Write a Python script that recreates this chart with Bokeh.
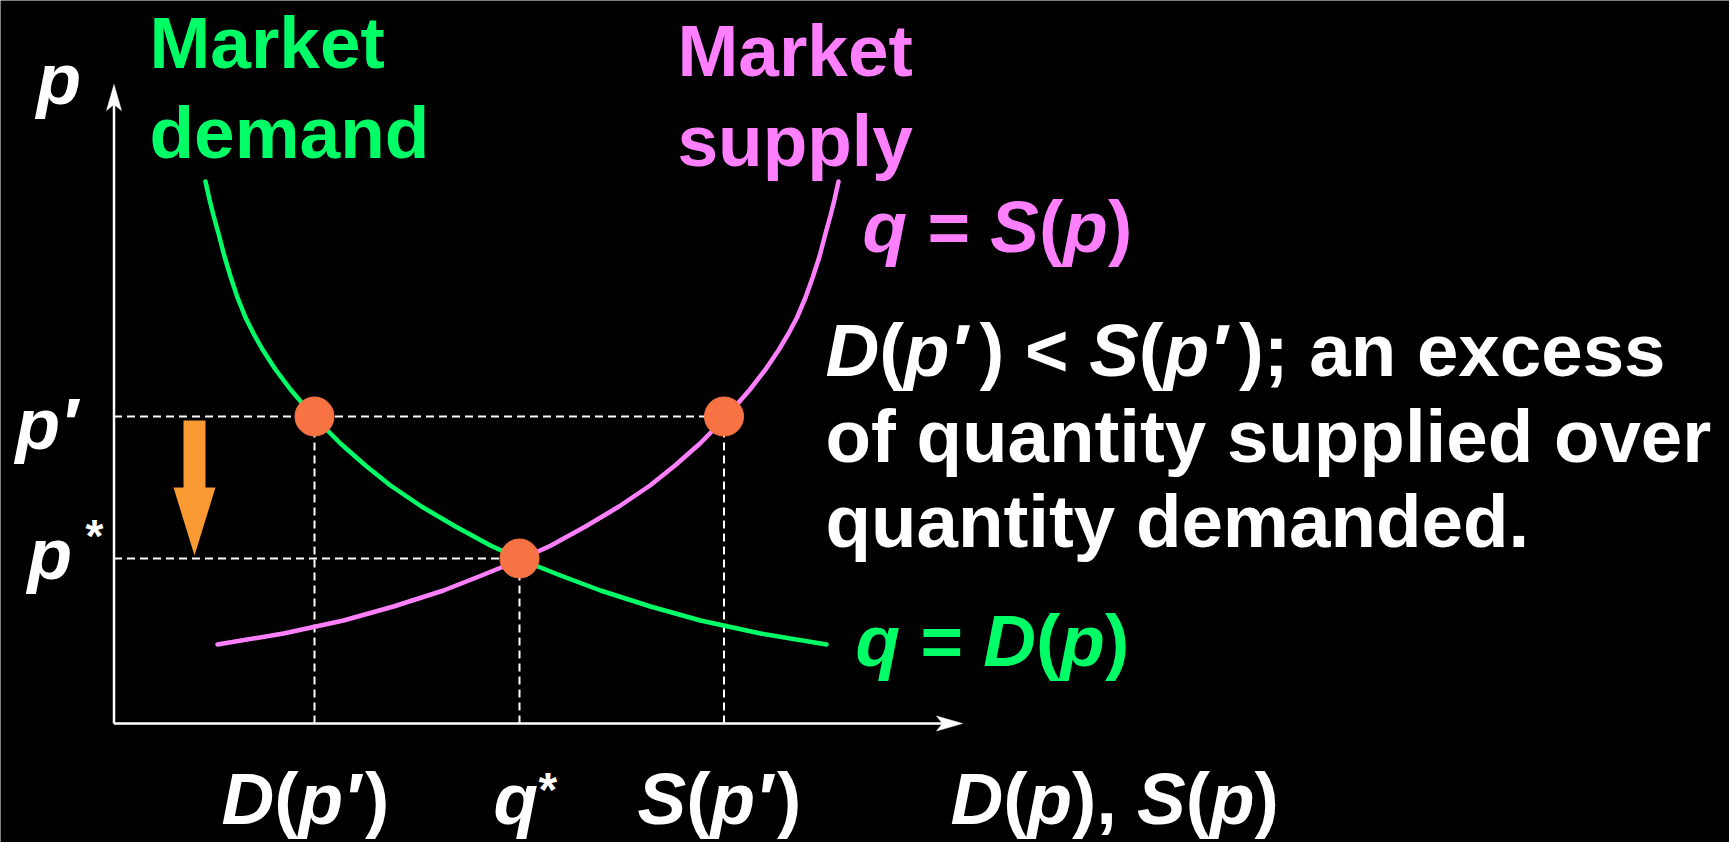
from bokeh.plotting import figure
from bokeh.models import Range1d
from bokeh.core.properties import value
from bokeh.embed import file_html
from bokeh.resources import INLINE

# ---------------- data (quantity q, price p) ----------------
demand_q = [0.915, 0.955, 0.995, 1.045, 1.105, 1.165, 1.235, 1.315, 1.395, 1.485, 1.615, 1.765,
            2.005, 2.265, 2.515, 2.765, 3.075, 3.415, 3.765, 4.065, 4.465, 4.865, 5.365, 5.865,
            6.465, 7.125]
demand_p = [5.42, 5.24, 5.08, 4.90, 4.67, 4.47, 4.26, 4.06, 3.90, 3.74, 3.54, 3.34,
            3.06, 2.80, 2.58, 2.38, 2.17, 1.97, 1.78, 1.64, 1.48, 1.33, 1.17, 1.03,
            0.90, 0.79]
supply_q = [1.035, 1.695, 2.295, 2.795, 3.295, 3.675, 4.065, 4.370, 4.715, 5.050, 5.360, 5.610,
            5.860, 6.115, 6.360, 6.515, 6.650, 6.745, 6.830, 6.915, 6.990, 7.055, 7.115, 7.165,
            7.205, 7.245]
supply_p = [0.79, 0.90, 1.03, 1.17, 1.33, 1.48, 1.64, 1.78, 1.97, 2.17, 2.38, 2.58,
            2.80, 3.06, 3.34, 3.54, 3.74, 3.90, 4.06, 4.26, 4.47, 4.67, 4.90, 5.08,
            5.24, 5.42]

p_prime = 3.07          # p'
p_star = 1.65           # p*
q_D_pprime = 2.005      # D(p')
q_star = 4.055          # q*
q_S_pprime = 6.10       # S(p')
q_axis_end = 8.485
p_axis_end = 6.39

# ---------------- styling ----------------
FONT = "Liberation Sans"
GREEN = "#00FF66"
PINK = "#FF80FF"
WHITE = "#FFFFFF"
DOT = "#F87343"
ORANGE = "#FA9A33"
FS = 73

W, H = 1729, 842
p = figure(width=W, height=H, x_range=Range1d(-1.135, 16.155), y_range=Range1d(-1.19, 7.23),
           min_border=0, toolbar_location=None, output_backend="svg",
           x_axis_type=None, y_axis_type=None,
           background_fill_color="black", border_fill_color="black", outline_line_color=None)
p.grid.visible = False


def qx(X):
    return (X - 113.5) / 100.0


def py(Y):
    return (723.0 - Y) / 100.0


# dashed guides
dash = dict(line_color=WHITE, line_width=2, line_dash="8 5")
p.line([0, q_S_pprime], [p_prime, p_prime], **dash)
p.line([0, q_star], [p_star, p_star], **dash)
p.line([q_D_pprime, q_D_pprime], [0, p_prime], **dash)
p.line([q_star, q_star], [0, p_star], **dash)
p.line([q_S_pprime, q_S_pprime], [0, p_prime], **dash)

# axes with arrow heads
hl, hw, notch = 0.26, 0.075, 0.06
p.line([0, q_axis_end - hl + notch], [0, 0], line_color=WHITE, line_width=2.5)
p.line([0, 0], [0, p_axis_end - hl + notch], line_color=WHITE, line_width=2.5)
p.patch([q_axis_end, q_axis_end - hl, q_axis_end - hl + notch, q_axis_end - hl],
        [0, hw, 0, -hw], color=WHITE, line_width=0.5)
p.patch([0, hw, 0, -hw],
        [p_axis_end, p_axis_end - hl, p_axis_end - hl + notch, p_axis_end - hl], color=WHITE, line_width=0.5)

# curves
p.line(demand_q, demand_p, line_color=GREEN, line_width=4.5, line_cap="round", line_join="round")
p.line(supply_q, supply_p, line_color=PINK, line_width=4.5, line_cap="round", line_join="round")

# equilibrium / disequilibrium points
p.circle([q_D_pprime, q_star, q_S_pprime], [p_prime, p_star, p_prime], radius=0.195,
         fill_color=DOT, line_color=DOT)

# orange downward arrow from p' toward p*
ax = 0.805
a_top, a_base, a_tip = p_prime - 0.04, 2.36, p_star + 0.03
sw, aw = 0.11, 0.21
p.patch([ax - sw, ax + sw, ax + sw, ax + aw, ax, ax - aw, ax - sw],
        [a_top, a_top, a_base, a_base, a_tip, a_base, a_base], color=ORANGE, line_width=0)

# ---------------- text ----------------
WID = {'D': .722, 'S': .667, 'p': .611, 'q': .611, '(': .333, ')': .333, '′': .30, ' ': .278,
       '<': .584, '=': .584, ';': .333, ',': .278, '.': .278, '*': .389, 'a': .556, 'n': .611,
       'e': .556, 'x': .556, 'c': .556, 's': .556, 'o': .611, 'f': .333, 'u': .611, 't': .333,
       'i': .278, 'y': .556, 'l': .278, 'd': .611, 'v': .556, 'r': .389, 'm': .889, 'M': .833,
       'k': .556}


def wid(s, size, prime=0.30):
    return sum((prime if c == '′' else WID.get(c, 0.556)) for c in s) * size


def rich(segs, X, Y, color, size=FS, prime=0.30):
    Yr = Y - 0.33 * size   # compensate the renderer's baseline offset
    for s, it in segs:
        core = s.strip(" ")
        lead = len(s) - len(s.lstrip(" "))
        if core:
            p.text(x=[qx(X + wid(" " * lead, size))], y=[py(Yr)], text=[core], text_font=value(FONT),
                   text_font_size=f"{size}px",
                   text_font_style="bold italic" if it else "bold", text_color=color,
                   text_align="left", text_baseline="alphabetic")
        X += wid(s, size, prime)


I, U = True, False
# titles
rich([("Market", U)], 149, 66, GREEN)
rich([("demand", U)], 149, 156, GREEN)
rich([("Market", U)], 677, 74, PINK)
rich([("supply", U)], 677, 164, PINK)
# curve labels
rich([("q", I), (" = ", U), ("S", I), ("(", U), ("p", I), (")", U)], 862, 250, PINK)
rich([("q", I), (" = ", U), ("D", I), ("(", U), ("p", I), (")", U)], 855, 664, GREEN)
# explanation
FW = 74.5
rich([("D", I), ("(", U), ("p", I), ("′", I), (") < ", U), ("S", I), ("(", U), ("p", I), ("′", I),
      ("); an excess", U)], 825, 375, WHITE, size=FW, prime=0.40)
rich([("of quantity supplied over", U)], 825, 461, WHITE, size=FW)
rich([("quantity demanded.", U)], 825, 546, WHITE, size=FW)
# axis labels
rich([("p", I)], 36, 102, WHITE)
rich([("p", I), ("′", I)], 15, 447, WHITE)
rich([("p", I)], 27, 577, WHITE)
rich([("*", U)], 85, 551, WHITE, size=46)
rich([("D", I), ("(", U), ("p", I), ("′", I), (")", U)], 221, 822, WHITE)
rich([("q", I)], 493, 822, WHITE)
rich([("*", U)], 538, 805, WHITE, size=48)
rich([("S", I), ("(", U), ("p", I), ("′", I), (")", U)], 637, 822, WHITE)
rich([("D", I), ("(", U), ("p", I), ("), ", U), ("S", I), ("(", U), ("p", I), (")", U)], 950, 822, WHITE)

html = file_html(p, INLINE)
html = html.replace("<body>", '<body style="background-color:black;">', 1)
open("out.html", "w").write(html)
